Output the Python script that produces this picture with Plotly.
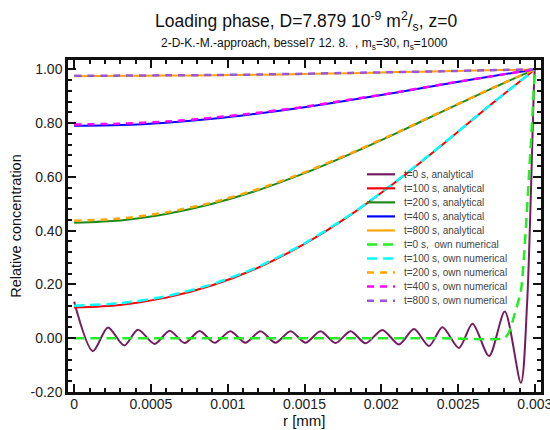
import plotly.graph_objects as go

# ---------------- data ----------------
r_grid = [0.0, 0.0003, 0.0006, 0.0009, 0.0012, 0.0015, 0.0018, 0.0021, 0.0024, 0.0027, 0.003]

t100_analytical = [0.114, 0.124, 0.151, 0.197, 0.263, 0.351, 0.459, 0.584, 0.721, 0.863, 1.0]
t200_analytical = [0.430, 0.438, 0.462, 0.500, 0.551, 0.614, 0.686, 0.763, 0.844, 0.924, 1.0]
t400_analytical = [0.790, 0.793, 0.802, 0.816, 0.836, 0.859, 0.886, 0.914, 0.944, 0.973, 1.0]
t800_analytical = [0.975, 0.976, 0.977, 0.978, 0.980, 0.983, 0.986, 0.990, 0.993, 0.997, 1.0]

t100_numerical = [0.121, 0.130, 0.156, 0.201, 0.266, 0.353, 0.460, 0.585, 0.722, 0.863, 1.0]
t200_numerical = [0.437, 0.445, 0.468, 0.505, 0.555, 0.617, 0.688, 0.765, 0.845, 0.925, 1.0]
t400_numerical = [0.795, 0.798, 0.806, 0.820, 0.839, 0.861, 0.888, 0.915, 0.945, 0.973, 1.0]
t800_numerical = [0.976, 0.977, 0.978, 0.979, 0.981, 0.984, 0.987, 0.990, 0.993, 0.997, 1.0]

# t=0 analytical (truncated Fourier-Bessel series, Gibbs oscillations)
t0_analytical_r = [0.0, 0.000122, 0.00022, 0.000326, 0.000415, 0.000524, 0.000622, 0.00072,
                   0.000817, 0.000915, 0.001017, 0.001115, 0.001213, 0.001311, 0.001409,
                   0.001507, 0.001604, 0.001702, 0.0018, 0.001898, 0.002007, 0.002115,
                   0.002213, 0.002311, 0.002398, 0.002506, 0.002594, 0.002702, 0.002804,
                   0.002909, 0.00295, 0.002995, 0.003]
t0_analytical_c = [0.136, -0.048, 0.040, -0.027, 0.032, -0.021, 0.028, -0.018,
                   0.027, -0.017, 0.026, -0.017, 0.026, -0.017, 0.026,
                   -0.017, 0.026, -0.018, 0.026, -0.019, 0.031, -0.023,
                   0.034, -0.029, 0.041, -0.036, 0.054, -0.066, 0.099,
                   -0.166, 0.136, 0.95, 1.0]

# t=0 own numerical
t0_numerical_r = [0.0, 0.0008, 0.0016, 0.0024, 0.0028, 0.00283, 0.00287, 0.00291, 0.00297, 0.003]
t0_numerical_c = [0.0, 0.0, 0.0, 0.0, 0.0, 0.02, 0.093, 0.18, 0.686, 1.0]

x_tickvals = [0, 0.0005, 0.001, 0.0015, 0.002, 0.0025, 0.003]
x_ticktext = ["0", "0.0005", "0.001", "0.0015", "0.002", "0.0025", "0.003"]
y_tickvals = [-0.2, 0.0, 0.2, 0.4, 0.6, 0.8, 1.0]
y_ticktext = ["-0.20", "0.00", "0.20", "0.40", "0.60", "0.80", "1.00"]

# ---------------- figure ----------------
FONT = "Liberation Sans, Arial, sans-serif"
W, H = 550, 430
ML, MR, MT, MB = 68, 9, 60, 38
PW, PH = W - ML - MR, H - MT - MB


def px_x(px):
    return (px - ML) / PW


def px_y(py):
    return (H - MB - py) / PH


fig = go.Figure()

analytical = [
    ("t=0 s, analytical", t0_analytical_r, t0_analytical_c, "#731d5e"),
    ("t=100 s, analytical", r_grid, t100_analytical, "#ff0000"),
    ("t=200 s, analytical", r_grid, t200_analytical, "#1a8a1a"),
    ("t=400 s, analytical", r_grid, t400_analytical, "#0000ff"),
    ("t=800 s, analytical", r_grid, t800_analytical, "#ffa500"),
]
numerical = [
    ("t=0 s,  own numerical", t0_numerical_r, t0_numerical_c, "#22ee22", "10px,6px"),
    ("t=100 s, own numerical", r_grid, t100_numerical, "#00ffff", "10px,6px"),
    ("t=200 s, own numerical", r_grid, t200_numerical, "#ffa500", "7px,6px"),
    ("t=400 s, own numerical", r_grid, t400_numerical, "#ff00ff", "7px,6px"),
    ("t=800 s, own numerical", r_grid, t800_numerical, "#9955dd", "7px,6px"),
]

legend_items = []
for name, xs, ys, col in analytical:
    fig.add_trace(go.Scatter(x=xs, y=ys, mode="lines", name=name, showlegend=False,
                             line=dict(color=col, width=2, shape="spline", smoothing=0.8)))
    legend_items.append((name, col, "solid", 2.2))
for name, xs, ys, col, dash in numerical:
    fig.add_trace(go.Scatter(x=xs, y=ys, mode="lines", name=name, showlegend=False,
                             line=dict(color=col, width=2.5, dash=dash, shape="spline", smoothing=0.6)))
    legend_items.append((name, col, dash, 2.5))

# compact legend (key line + label), laid out in pixels inside the plot area
shapes, annotations = [], []
row0, row_step = 174.3, 14.04
for i, (name, col, dash, lw) in enumerate(legend_items):
    yy = px_y(row0 + i * row_step)
    shapes.append(dict(type="line", xref="paper", yref="paper",
                       x0=px_x(367), x1=px_x(395), y0=yy, y1=yy,
                       line=dict(color=col, width=lw, dash=dash)))
    annotations.append(dict(text=name, xref="paper", yref="paper", x=px_x(402), y=yy,
                            xanchor="left", yanchor="middle", showarrow=False,
                            font=dict(family=FONT, size=10, color="#444")))

# title + subtitle
annotations.append(dict(
    text="Loading phase, D=7.879 10<sup>-9</sup> m<sup>2</sup>/<sub>s</sub>, z=0",
    xref="paper", yref="paper", x=px_x(306), y=px_y(21), xanchor="center", yanchor="middle",
    showarrow=False, font=dict(family=FONT, size=17.5, color="#111")))
annotations.append(dict(
    text="2-D-K.-M.-approach, bessel7 12. 8.  , m<sub>s</sub>=30, n<sub>s</sub>=1000",
    xref="paper", yref="paper", x=px_x(304), y=px_y(44), xanchor="center", yanchor="middle",
    showarrow=False, font=dict(family=FONT, size=12, color="#111")))
# x-axis title
annotations.append(dict(
    text="r [mm]", xref="paper", yref="paper", x=px_x(304), y=px_y(420.5),
    xanchor="center", yanchor="middle", showarrow=False,
    font=dict(family=FONT, size=15, color="#111")))

axis_common = dict(
    showline=True, linecolor="#111", linewidth=2.5, mirror="allticks",
    ticks="inside", ticklen=8, tickwidth=2, tickcolor="#111",
    showgrid=False, zeroline=False, automargin=False,
    tickfont=dict(family=FONT, size=14, color="#222"),
)

fig.update_xaxes(
    **axis_common,
    range=[-0.00004, 0.00304],
    tickmode="array", tickvals=x_tickvals, ticktext=x_ticktext,
    ticklabeloverflow="allow", ticklabelstandoff=-3,
    minor=dict(ticks="inside", ticklen=4, tickwidth=1.5, tickcolor="#111", dtick=0.0001),
)
fig.update_yaxes(
    **axis_common,
    range=[-0.2, 1.035],
    tickmode="array", tickvals=y_tickvals, ticktext=y_ticktext,
    minor=dict(ticks="inside", ticklen=4, tickwidth=1.5, tickcolor="#111", dtick=0.04, tick0=0),
    title=dict(text="Relative concentration", font=dict(family=FONT, size=14.5, color="#111"), standoff=6),
)

fig.update_layout(
    width=W, height=H,
    margin=dict(l=ML, r=MR, t=MT, b=MB),
    paper_bgcolor="white", plot_bgcolor="white",
    font=dict(family=FONT, color="#111"),
    showlegend=False,
    shapes=shapes,
    annotations=annotations,
)

# remove the browser's default 8px page margin so the figure sits at the window origin
fig.write_html("out.html",
               config={"displayModeBar": False},
               post_script="document.body.style.margin='0';document.body.style.padding='0';")
